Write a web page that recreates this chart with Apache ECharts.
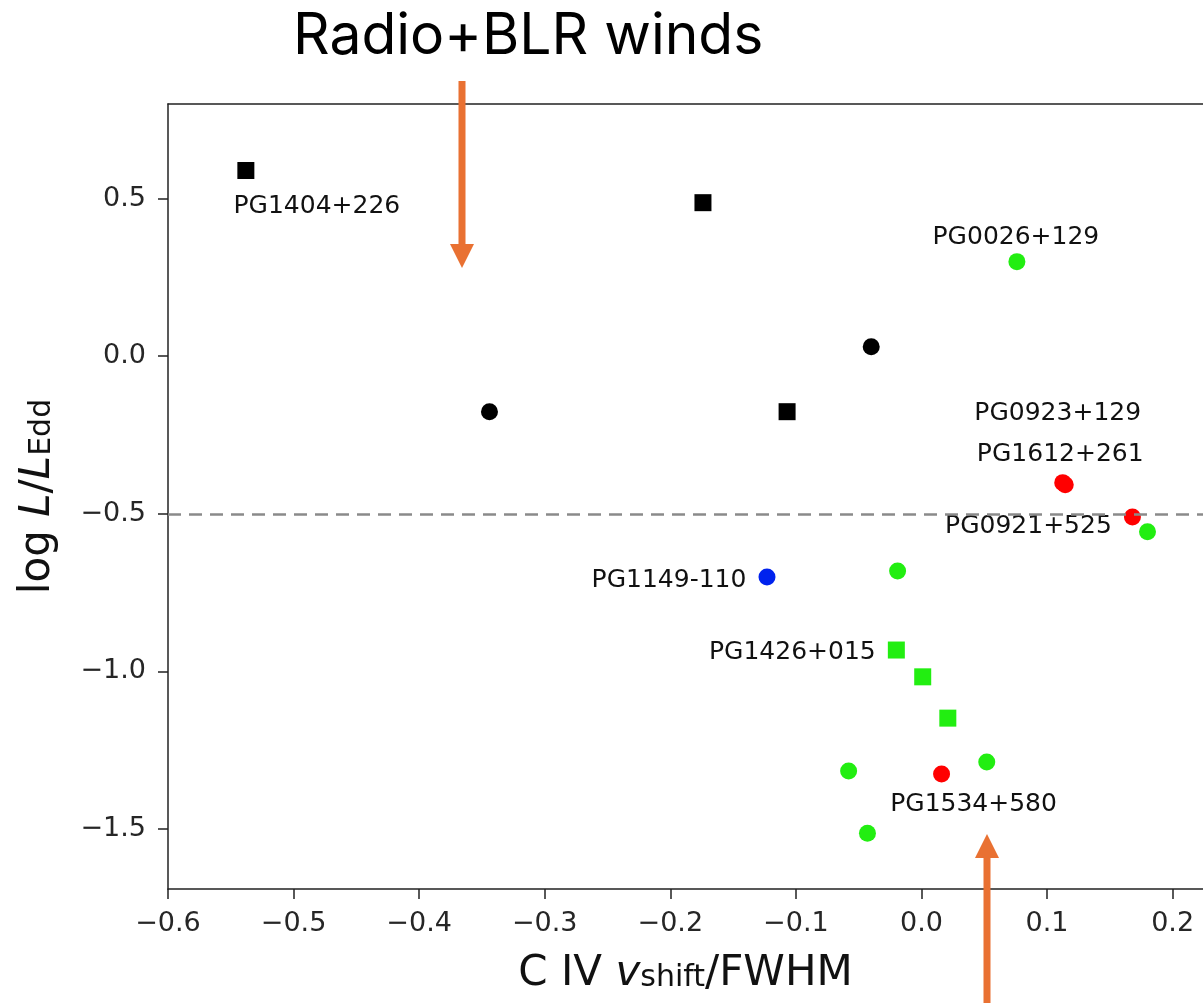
<!DOCTYPE html>
<html>
<head>
<meta charset="utf-8">
<style>
  html, body { margin: 0; padding: 0; background: #fff; }
  #chart { width: 1203px; height: 1003px; }
</style>
<script src="https://cdn.jsdelivr.net/npm/echarts@6/dist/echarts.min.js"></script>
</head>
<body>
<div id="chart"></div>
<script>
// ---------------- DATA ----------------
// [C IV v_shift/FWHM, log L/L_Edd, label]
const blackSquares = [
  [-0.538, 0.589, 'PG1404+226'],
  [-0.174, 0.487, ''],
  [-0.107, -0.176, '']
];
const blackCircles = [
  [-0.040, 0.030, ''],
  [-0.344, -0.176, '']
];
const greenCircles = [
  [0.076, 0.300, 'PG0026+129'],
  [0.180, -0.557, ''],
  [-0.019, -0.681, ''],
  [-0.058, -1.316, ''],
  [0.052, -1.287, ''],
  [-0.043, -1.513, '']
];
const greenSquares = [
  [-0.020, -0.932, 'PG1426+015'],
  [0.001, -1.017, ''],
  [0.021, -1.148, '']
];
const redCircles = [
  [0.1125, -0.401, 'PG0923+129'],
  [0.1145, -0.408, 'PG1612+261'],
  [0.168, -0.510, 'PG0921+525'],
  [0.016, -1.325, 'PG1534+580']
];
const blueCircles = [
  [-0.123, -0.700, 'PG1149-110']
];
const thresholdY = -0.5;
const xTicks = [-0.6, -0.5, -0.4, -0.3, -0.2, -0.1, 0.0, 0.1, 0.2];
const yTicks = [-1.5, -1.0, -0.5, 0.0, 0.5];
const xRange = [-0.6, 0.2242];
const yRange = [-1.69, 0.80];
const titleText = 'Radio+BLR winds';

// ---------------- STYLE ----------------
const labelOffsets = {
  'PG1404+226': [71, 36],
  'PG0026+129': [-1, -24],
  'PG0923+129': [-5, -69],
  'PG1612+261': [-5, -30],
  'PG0921+525': [-104, 10],
  'PG1149-110': [-98, 4],
  'PG1426+015': [-104, 2],
  'PG1534+580': [32, 31]
};
const GREEN = '#22ee11', RED = '#ff0000', BLUE = '#0022ee', BLACK = '#000000';
const ORANGE = '#E97132';
const AXIS = '#222222';
const FONT = 'DejaVu Sans';

function fmt(v) {
  return v.toFixed(1).replace('-', '\u2212');
}

function makeData(arr) {
  return arr.map(p => {
    const item = { value: [p[0], p[1]] };
    if (p[2]) {
      item.label = {
        show: true,
        formatter: p[2],
        position: 'inside',
        offset: labelOffsets[p[2]] || [0, 0],
        fontFamily: FONT,
        fontSize: 25,
        color: '#111111'
      };
    }
    return item;
  });
}

function scatter(arr, color, symbol, size) {
  return {
    type: 'scatter',
    data: makeData(arr),
    symbol: symbol,
    symbolSize: size,
    itemStyle: { color: color, opacity: 1 },
    label: { show: false },
    emphasis: { disabled: true },
    z: 3
  };
}

const nameRich = {
  n: { fontFamily: FONT, fontSize: 42, color: '#111', padding: [0, 0, 8, 0] },
  i: { fontFamily: FONT, fontSize: 42, fontStyle: 'italic', color: '#111', padding: [0, 0, 8, 0] },
  s: { fontFamily: FONT, fontSize: 30, color: '#111' }
};

const chart = echarts.init(document.getElementById('chart'), null, { renderer: 'canvas' });

const option = {
  animation: false,
  backgroundColor: '#ffffff',
  title: {
    text: titleText,
    left: 288,
    top: 3,
    textStyle: { fontFamily: 'Inter', fontSize: 57, fontWeight: 'normal', color: '#000' }
  },
  grid: {
    left: 168, top: 104, right: 0, bottom: 114,
    show: false
  },
  xAxis: [{
    type: 'value',
    position: 'bottom',
    min: xRange[0], max: xRange[1],
    splitLine: { show: false },
    axisLine: { show: true, onZero: false, lineStyle: { color: AXIS, width: 1.5 } },
    axisTick: { show: true, length: 10, customValues: xTicks, lineStyle: { color: AXIS, width: 1.5 } },
    axisLabel: {
      customValues: xTicks,
      formatter: v => fmt(v),
      fontFamily: FONT, fontSize: 27, color: '#262626', margin: 21
    },
    name: '{n|C IV }{i|v}{s|shift}{n|/FWHM}',
    nameLocation: 'middle',
    nameMoveOverlap: false,
    nameGap: 64,
    nameTextStyle: { fontFamily: FONT, fontSize: 42, color: '#111', rich: nameRich }
  }, {
    type: 'value',
    position: 'top',
    min: xRange[0], max: xRange[1],
    splitLine: { show: false },
    axisLine: { show: true, onZero: false, lineStyle: { color: AXIS, width: 1.5 } },
    axisTick: { show: false },
    axisLabel: { show: false }
  }],
  yAxis: {
    type: 'value',
    min: yRange[0], max: yRange[1],
    splitLine: { show: false },
    axisLine: { show: true, onZero: false, lineStyle: { color: AXIS, width: 1.5 } },
    axisTick: { show: true, length: 10, customValues: yTicks, lineStyle: { color: AXIS, width: 1.5 } },
    axisLabel: {
      customValues: yTicks,
      formatter: v => fmt(v),
      fontFamily: FONT, fontSize: 27, color: '#262626', margin: 22
    },
    name: '{n|log }{i|L}{n|/}{i|L}{s|Edd}',
    nameLocation: 'middle',
    nameMoveOverlap: false,
    nameGap: 101,
    nameTextStyle: { fontFamily: FONT, fontSize: 42, color: '#111', rich: nameRich }
  },
  series: [
    {
      type: 'line',
      data: [],
      markLine: {
        silent: true,
        symbol: ['none', 'none'],
        label: { show: false },
        lineStyle: { type: [13, 8], color: '#8a8a8a', width: 2.5 },
        data: [{ yAxis: thresholdY }]
      },
      z: 1
    },
    scatter(blackSquares, BLACK, 'rect', 17),
    scatter(blackCircles, BLACK, 'circle', 17),
    scatter(greenCircles, GREEN, 'circle', 17),
    scatter(greenSquares, GREEN, 'rect', 17),
    scatter(redCircles, RED, 'circle', 17),
    scatter(blueCircles, BLUE, 'circle', 17)
  ],
  graphic: [
    { type: 'line', shape: { x1: 462, y1: 81, x2: 462, y2: 246 }, style: { stroke: ORANGE, lineWidth: 7 }, z: 10 },
    { type: 'polygon', shape: { points: [[450, 244], [474, 244], [462, 268]] }, style: { fill: ORANGE }, z: 10 },
    { type: 'line', shape: { x1: 987, y1: 856, x2: 987, y2: 1010 }, style: { stroke: ORANGE, lineWidth: 7 }, z: 10 },
    { type: 'polygon', shape: { points: [[975, 858], [999, 858], [987, 834]] }, style: { fill: ORANGE }, z: 10 }
  ]
};

chart.setOption(option);
</script>
</body>
</html>
